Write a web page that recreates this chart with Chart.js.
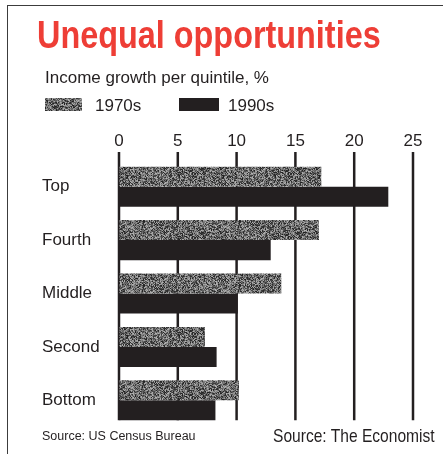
<!DOCTYPE html>
<html>
<head>
<meta charset="utf-8">
<script src="https://cdn.jsdelivr.net/npm/chart.js@4.4.1/dist/chart.umd.min.js"></script>
<style>
  html, body { margin: 0; padding: 0; background: #fff; }
  #wrap { position: relative; width: 443px; height: 454px; overflow: hidden; font-family: "Liberation Sans", Arial, sans-serif; color: #231f20; }
  #frame { position: absolute; left: 7px; top: 5px; right: -4px; bottom: -4px; border-top: 1.5px solid #3c3c3c; border-left: 1.5px solid #3c3c3c; }
  #chart { position: absolute; left: 0; top: 0; }
  .txt { position: absolute; line-height: 1; white-space: nowrap; }
  .narrow { transform: scaleX(0.82); transform-origin: 0 0; }
  #title { left: 37px; top: 14.6px; font-weight: bold; font-size: 39.5px; color: #ee3e36; }
  #subtitle { left: 45px; top: 69px; font-size: 17px; }
  .swatch { position: absolute; top: 98px; height: 13px; }
  .legtxt { top: 97px; font-size: 17px; }
  #srcLeft { left: 42px; top: 429.5px; font-size: 12.5px; }
  #srcRight { left: 273px; top: 425.6px; font-size: 19px; }
</style>
</head>
<body>
<div id="wrap">
  <div id="frame"></div>
  <canvas id="chart" width="443" height="454"></canvas>
  <div class="txt narrow" id="title">Unequal opportunities</div>
  <div class="txt" id="subtitle">Income growth per quintile, %</div>
  <canvas class="swatch" id="sw70" width="37" height="13" style="left:45px"></canvas>
  <div class="txt legtxt" id="leg70" style="left:95px"></div>
  <canvas class="swatch" id="sw90" width="40" height="13" style="left:179px"></canvas>
  <div class="txt legtxt" id="leg90" style="left:228px"></div>
  <div class="txt" id="srcLeft">Source: US Census Bureau</div>
  <div class="txt narrow" id="srcRight">Source: The Economist</div>
</div>
<script>
const quintiles = ['Top', 'Fourth', 'Middle', 'Second', 'Bottom'];
const seriesNames = ['1970s', '1990s'];
const growth1970s = [17.2, 17.0, 13.8, 7.3, 10.2];
const growth1990s = [22.9, 12.9, 10.1, 8.3, 8.2];
const xTicks = [0, 5, 10, 15, 20, 25];

const INK = '#231f20';

// grainy grey fill like the printed screen
function makeStipple() {
    const c = document.createElement('canvas');
    c.width = 96; c.height = 32;
    const g = c.getContext('2d');
    const img = g.createImageData(c.width, c.height);
    let seed = 12345;
    for (let i = 0; i < c.width * c.height; i++) {
        seed = (seed * 1103515245 + 12345) & 0x7fffffff;
        const v = Math.round(30 + (seed / 0x7fffffff) * 150);
        img.data[i * 4] = v; img.data[i * 4 + 1] = v; img.data[i * 4 + 2] = v; img.data[i * 4 + 3] = 255;
    }
    g.putImageData(img, 0, 0);
    return g.createPattern(c, 'repeat');
}
const stipple = makeStipple();

function paintSwatch(id, fill) {
    const el = document.getElementById(id);
    const g = el.getContext('2d');
    g.fillStyle = fill;
    g.fillRect(0, 0, el.width, el.height);
}
paintSwatch('sw70', makeStipple());
paintSwatch('sw90', INK);
document.getElementById('leg70').textContent = seriesNames[0];
document.getElementById('leg90').textContent = seriesNames[1];

// vertical rules: from just above the plot down to the last bar
const gridRules = {
    id: 'gridRules',
    beforeDatasetsDraw(chart) {
        const { ctx, chartArea, scales: { x } } = chart;
        const meta = chart.getDatasetMeta(1);
        const last = meta.data[meta.data.length - 1];
        const bottom = last.y + last.height / 2;
        ctx.save();
        ctx.strokeStyle = INK;
        ctx.lineWidth = 2.5;
        x.ticks.forEach(t => {
            const px = x.getPixelForValue(t.value);
            ctx.beginPath();
            ctx.moveTo(px, chartArea.top - 8);
            ctx.lineTo(px, bottom);
            ctx.stroke();
        });
        ctx.restore();
    }
};

new Chart(document.getElementById('chart'), {
    type: 'bar',
    data: {
        labels: quintiles,
        datasets: [
            { label: seriesNames[0], data: growth1970s, backgroundColor: stipple },
            { label: seriesNames[1], data: growth1990s, backgroundColor: INK }
        ]
    },
    options: {
        indexAxis: 'y',
        responsive: false,
        animation: false,
        layout: { padding: { left: 42, right: 30, top: 130, bottom: 27 } },
        datasets: { bar: { barPercentage: 1, categoryPercentage: 0.75, borderWidth: 0 } },
        plugins: { legend: { display: false }, tooltip: { enabled: false } },
        scales: {
            x: {
                position: 'top',
                min: 0,
                max: 25,
                afterBuildTicks: axis => { axis.ticks = xTicks.map(v => ({ value: v })); },
                afterFit: axis => { axis.height = 30; },
                grid: { color: 'rgba(0,0,0,0)', tickLength: 8 },
                border: { display: false },
                ticks: { padding: 0, color: INK, font: { family: '"Liberation Sans", Arial, sans-serif', size: 17 } }
            },
            y: {
                afterFit: axis => { axis.width = 77; },
                grid: { display: false },
                border: { display: false },
                ticks: { crossAlign: 'far', padding: 0, color: INK, font: { family: '"Liberation Sans", Arial, sans-serif', size: 17 } }
            }
        }
    },
    plugins: [gridRules]
});
</script>
</body>
</html>
